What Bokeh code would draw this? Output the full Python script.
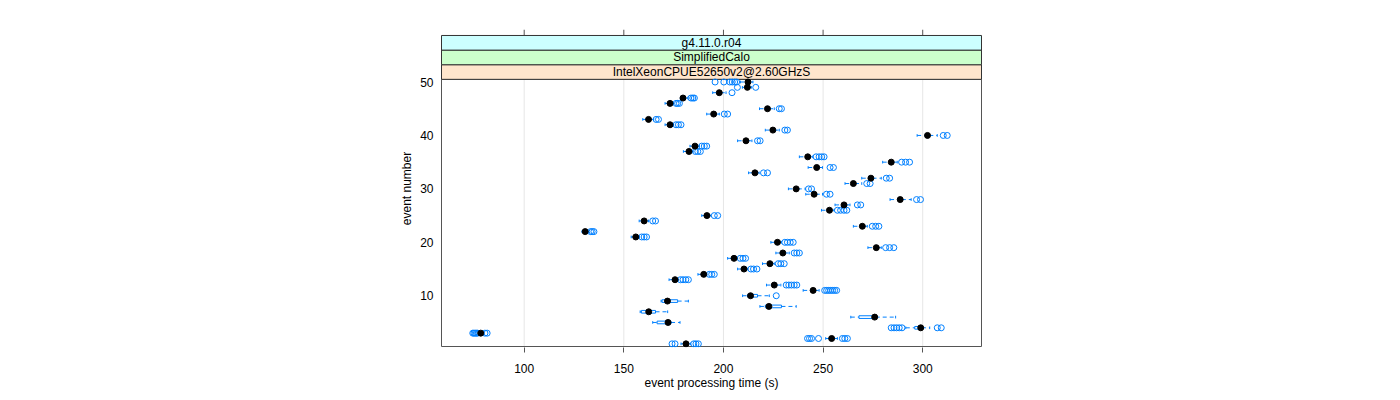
from bokeh.plotting import figure
from bokeh.models import FixedTicker, Range1d
from bokeh.core.properties import value
from bokeh.embed import file_html
from bokeh.resources import INLINE

# ---------------- data ----------------
events = list(range(1, 51))
whisker_lo = [178.7, 251.3, 77.3, 291.5, 164.5, 263.9, 158.2, 218.3, 168.7, 209.6,
              240.0, 221.6, 172.7, 187.2, 207.1, 219.6, 202.1, 226.3, 272.5, 223.8,
              153.7, 129.0, 265.2, 157.7, 189.1, 249.2, 256.0, 283.6, 241.3, 232.6,
              261.0, 269.4, 212.6, 242.5, 279.9, 238.1, 179.9, 183.2, 207.1, 297.2,
              221.0, 170.7, 159.5, 191.6, 218.1, 170.7, 178.4, 194.6, 209.5, 208.5]
q1 = [180.5, 253.5, 77.8, 296.0, 166.7, 268.0, 158.8, 221.0, 169.2, 212.1,
      244.2, 224.7, 175.0, 189.4, 209.6, 222.6, 204.6, 229.0, 275.9, 226.4,
      155.3, 130.0, 268.9, 159.5, 191.0, 252.4, 259.7, 287.9, 244.7, 235.7,
      264.4, 273.2, 215.1, 246.0, 283.4, 241.5, 182.0, 185.0, 210.5, 301.5,
      224.0, 172.5, 161.7, 194.3, 221.3, 172.5, 179.1, 197.2, 211.4, 211.6]
median = [181.2, 254.3, 78.2, 299.0, 172.2, 275.9, 162.5, 222.8, 171.9, 213.6,
          245.0, 225.5, 175.7, 190.1, 210.3, 223.3, 205.3, 229.8, 276.7, 227.1,
          156.0, 130.6, 269.7, 160.2, 191.7, 253.2, 260.5, 288.7, 245.5, 236.5,
          265.2, 274.0, 215.8, 246.8, 284.2, 242.3, 182.7, 185.7, 211.3, 302.4,
          224.8, 173.2, 162.4, 195.1, 222.1, 173.2, 179.7, 197.9, 212.0, 212.3]
q3 = [182.0, 255.0, 78.7, 299.6, 173.7, 276.4, 165.9, 229.1, 177.0, 217.1,
      245.8, 226.4, 176.4, 190.8, 211.0, 224.0, 206.0, 230.6, 277.5, 227.8,
      156.7, 131.2, 270.5, 160.9, 192.4, 254.0, 261.3, 289.5, 246.3, 237.3,
      266.0, 274.8, 216.5, 247.6, 285.0, 243.1, 183.4, 186.4, 212.1, 303.3,
      225.6, 173.9, 163.1, 195.9, 222.9, 173.9, 180.4, 198.6, 212.7, 213.0]
whisker_hi = [183.4, 257.2, 79.3, 303.5, 178.2, 286.4, 172.0, 236.5, 182.4, 223.0,
              248.0, 228.8, 177.4, 191.7, 212.1, 225.5, 207.1, 233.0, 279.2, 229.1,
              157.8, 132.3, 272.2, 162.4, 193.7, 255.5, 263.5, 294.2, 249.7, 241.0,
              269.4, 279.2, 217.9, 249.7, 287.2, 244.8, 184.8, 187.9, 214.3, 307.3,
              228.0, 175.0, 165.0, 197.9, 225.5, 175.0, 182.1, 201.3, 214.0, 214.8]
outliers = [
    [174.2, 175.7, 185.1, 186.2, 187.4],
    [242.2, 243.2, 244.2, 247.7, 259.7, 260.9, 262.2],
    [74.2, 74.8, 75.4, 76.0, 76.6, 80.3, 81.4],
    [284.2, 285.6, 286.9, 288.2, 289.6, 307.3, 309.3],
    [], [], [], [], [],
    [226.5],
    [250.8, 251.8, 252.8, 253.8, 254.8, 255.8, 256.8],
    [231.5, 232.8, 234.1, 235.5, 236.8],
    [178.4, 179.7, 181.1, 182.4],
    [192.9, 194.1, 195.4],
    [213.8, 215.1, 216.8],
    [227.5, 228.8, 230.5],
    [208.4, 209.8, 211.1],
    [235.5, 236.8, 238.1],
    [281.4, 283.4, 285.5],
    [230.8, 232.1, 233.5, 235.0],
    [159.0, 160.2, 161.4],
    [133.3, 134.1, 135.0],
    [274.7, 276.4, 278.0],
    [164.5, 165.9],
    [195.4, 197.1],
    [257.2, 258.8, 260.5, 261.9],
    [267.2, 268.9],
    [296.9, 298.9],
    [251.7, 253.5],
    [242.7, 244.2],
    [271.9, 273.6],
    [281.7, 283.4],
    [220.1, 222.1],
    [253.5, 255.2],
    [289.4, 291.4, 293.4],
    [246.5, 248.0, 249.3, 250.5],
    [185.9, 187.1, 188.4],
    [189.1, 190.4, 191.6],
    [217.1, 218.4],
    [310.3, 312.3],
    [230.8, 232.1],
    [176.2, 177.4, 178.7],
    [166.2, 167.4],
    [200.4, 202.1],
    [228.0, 229.1],
    [176.2, 177.0, 177.9],
    [183.7, 184.6, 185.4],
    [204.3],
    [207.0, 216.2],
    [195.8, 200.2, 203.2, 204.4, 205.6, 206.6],
]
x_ticks = [100, 150, 200, 250, 300]
y_ticks = [10, 20, 30, 40, 50]
strip_labels = ["IntelXeonCPUE52650v2@2.60GHzS", "SimplifiedCalo", "g4.11.0.r04"]
strip_colors = ["#ffe5cc", "#ccffcc", "#ccffff"]

# ---------------- layout ----------------
BLUE = "#0080ff"
FRAME = "#555555"
FONT = "Liberation Sans"
PX_X = 540.0 / 271.0          # pixels per x unit
PX_Y = 5.36                   # pixels per event
XMIN, XMAX = 58.5, 329.5      # panel extent
PANEL_BOT, PANEL_TOP = 0.5, 50.5
STRIP_H = 44.0 / PX_Y / 3.0
STRIP_TOP = PANEL_TOP + 3 * STRIP_H
TICK_TOP = STRIP_TOP + 6.0 / PX_Y
HALF = 0.25

p = figure(width=1392, height=392, output_backend="svg", toolbar_location=None,
           x_range=Range1d(XMIN - 1.0 / PX_X, XMAX + 1.0 / PX_X),
           y_range=Range1d(PANEL_BOT - 1.0 / PX_Y, TICK_TOP),
           min_border_left=440, min_border_right=410, min_border_top=29,
           min_border_bottom=44)
p.outline_line_color = None
p.xgrid.grid_line_color = None
p.ygrid.grid_line_color = None
p.background_fill_color = "white"
p.border_fill_color = "white"

for ax in p.xaxis:
    ax.ticker = FixedTicker(ticks=x_ticks)
    ax.axis_label = "event processing time (s)"
    ax.major_tick_out = 5
    ax.major_tick_in = 0
    ax.major_label_standoff = 11
    ax.axis_label_standoff = 0
for ax in p.yaxis:
    ax.ticker = FixedTicker(ticks=y_ticks)
    ax.axis_label = "event number"
    ax.major_tick_out = 0
    ax.major_tick_in = 0
    ax.major_label_standoff = 7
    ax.axis_label_standoff = 3
for ax in list(p.xaxis) + list(p.yaxis):
    ax.axis_line_color = None
    ax.minor_tick_line_color = None
    ax.major_tick_line_color = FRAME
    ax.major_label_text_font = FONT
    ax.major_label_text_font_size = "12px"
    ax.major_label_text_color = "black"
    ax.axis_label_text_font = FONT
    ax.axis_label_text_font_style = "normal"
    ax.axis_label_text_font_size = "12px"
    ax.axis_label_text_color = "black"

# grid lines inside the panel only
p.segment(x0=x_ticks, y0=[PANEL_BOT] * len(x_ticks), x1=x_ticks, y1=[PANEL_TOP] * len(x_ticks),
          line_color="#e6e6e6", line_width=1)

# top tick marks above the strips
p.segment(x0=x_ticks, y0=[STRIP_TOP] * len(x_ticks), x1=x_ticks, y1=[TICK_TOP] * len(x_ticks),
          line_color=FRAME, line_width=1)

# panel border
p.quad(left=XMIN, right=XMAX, bottom=PANEL_BOT, top=PANEL_TOP, fill_color=None,
       line_color=FRAME, line_width=1)

# strips
bottoms = [PANEL_TOP + i * STRIP_H for i in range(3)]
tops = [b + STRIP_H for b in bottoms]
p.quad(left=XMIN, right=XMAX, bottom=bottoms, top=tops, fill_color=strip_colors,
       line_color="#333333", line_width=1)
p.text(x=[(XMIN + XMAX) / 2] * 3, y=[(b + t) / 2 for b, t in zip(bottoms, tops)],
       text=strip_labels, text_align="center", text_baseline="middle",
       text_font=value(FONT), text_font_size="12px", text_color="black")

# box plots
ev_lo = [e - HALF for e in events]
ev_hi = [e + HALF for e in events]
p.segment(x0=whisker_lo, y0=events, x1=q1, y1=events, line_color=BLUE, line_dash="4 3")
p.segment(x0=q3, y0=events, x1=whisker_hi, y1=events, line_color=BLUE, line_dash="4 3")
p.segment(x0=whisker_lo, y0=ev_lo, x1=whisker_lo, y1=ev_hi, line_color=BLUE)
p.segment(x0=whisker_hi, y0=ev_lo, x1=whisker_hi, y1=ev_hi, line_color=BLUE)
p.quad(left=q1, right=q3, bottom=ev_lo, top=ev_hi, fill_color=None, line_color=BLUE)

out_x = [v for vals in outliers for v in vals]
out_y = [e for e, vals in zip(events, outliers) for _ in vals]
p.scatter(x=out_x, y=out_y, marker="circle", size=6, fill_color=None,
          line_color=BLUE, line_width=1)
p.scatter(x=median, y=events, marker="circle", size=6, fill_color="black",
          line_color="black")

open("out.html", "w").write(file_html(p, INLINE))
